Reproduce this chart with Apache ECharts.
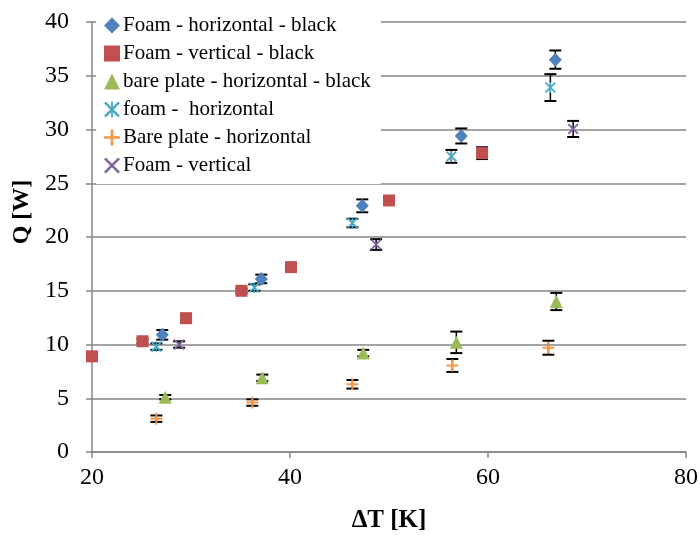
<!DOCTYPE html>
<html>
<head>
<meta charset="utf-8">
<script src="https://cdn.jsdelivr.net/npm/echarts@6/dist/echarts.min.js"></script>
<style>
html, body { margin: 0; padding: 0; background: #fff; }
#main { width: 700px; height: 535px; }
</style>
</head>
<body>
<div id="main"></div>
<script>
// x ticks / y ticks
var xTicks = [20, 40, 60, 80];
var yTicks = [0, 5, 10, 15, 20, 25, 30, 35, 40];

// Foam - horizontal - black
var fhbX = [27.1, 37.1, 47.3, 57.3, 66.8];
var fhbY = [10.9, 16.1, 22.9, 29.4, 36.5];
var fhbErr = [0.45, 0.4, 0.6, 0.7, 0.85];

// Foam - vertical - black
var fvbX = [20.0, 25.1, 29.5, 35.1, 40.1, 50.0, 59.4];
var fvbY = [8.9, 10.3, 12.45, 15.0, 17.2, 23.4, 27.8];
var fvbErr = [0.2, 0.2, 0.2, 0.2, 0.2, 0.35, 0.55];

// bare plate - horizontal - black
var bhbX = [27.4, 37.2, 47.4, 56.8, 66.9];
var bhbY = [5.1, 6.9, 9.2, 10.2, 14.0];
var bhbErr = [0.2, 0.3, 0.3, 1.0, 0.8];

// foam - horizontal
var fhX = [26.5, 36.4, 46.3, 56.3, 66.3];
var fhY = [9.8, 15.3, 21.3, 27.5, 33.9];
var fhErr = [0.3, 0.3, 0.4, 0.6, 1.25];

// Bare plate - horizontal
var bhX = [26.5, 36.2, 46.3, 56.4, 66.1];
var bhY = [3.1, 4.6, 6.3, 8.05, 9.7];
var bhErr = [0.3, 0.3, 0.4, 0.6, 0.65];

// Foam - vertical
var fvX = [28.8, 48.7, 68.6];
var fvY = [10.0, 19.3, 30.05];
var fvErr = [0.3, 0.5, 0.75];

var font = 'Liberation Serif';

var PLUS = 'path://M5,0H7V5H12V7H7V12H5V7H0V5H5Z';
var CROSS = 'path://M0,1.4L1.4,0L12,10.6L10.6,12Z M10.6,0L12,1.4L1.4,12L0,10.6Z';
var STAR = 'path://M0,1.4L1.4,0L12,10.6L10.6,12Z M10.6,0L12,1.4L1.4,12L0,10.6Z M5.3,0H6.7V12H5.3Z';

function pts(xs, ys) {
    return xs.map(function (x, i) { return [x, ys[i]]; });
}
function errPts(xs, ys, es) {
    return xs.map(function (x, i) { return [x, ys[i], es[i]]; });
}

function renderErr(params, api) {
    var x = api.value(0), y = api.value(1), e = api.value(2);
    var hi = api.coord([x, y + e]);
    var lo = api.coord([x, y - e]);
    var w = 6;
    var st = { stroke: '#000', lineWidth: 2 };
    return {
        type: 'group',
        children: [
            { type: 'line', shape: { x1: hi[0], y1: hi[1], x2: lo[0], y2: lo[1] }, style: { stroke: '#000', lineWidth: 1.5 } },
            { type: 'line', shape: { x1: hi[0] - w, y1: hi[1], x2: hi[0] + w, y2: hi[1] }, style: st },
            { type: 'line', shape: { x1: lo[0] - w, y1: lo[1], x2: lo[0] + w, y2: lo[1] }, style: st }
        ]
    };
}

var groups = [
    { name: 'Foam - horizontal - black', xs: fhbX, ys: fhbY, es: fhbErr, symbol: 'diamond', size: [13, 14], color: '#4F81BD' },
    { name: 'Foam - vertical - black', xs: fvbX, ys: fvbY, es: fvbErr, symbol: 'rect', size: 12, color: '#C0504D' },
    { name: 'bare plate - horizontal - black', xs: bhbX, ys: bhbY, es: bhbErr, symbol: 'triangle', size: 13, color: '#9BBB59' },
    { name: 'foam -  horizontal', xs: fhX, ys: fhY, es: fhErr, symbol: STAR, size: 11, color: '#4BACC6' },
    { name: 'Bare plate - horizontal', xs: bhX, ys: bhY, es: bhErr, symbol: PLUS, size: 12, color: '#F79646' },
    { name: 'Foam - vertical', xs: fvX, ys: fvY, es: fvErr, symbol: CROSS, size: 11, color: '#8064A2' }
];

var series = [];
groups.forEach(function (g) {
    series.push({
        name: g.name + ' err',
        type: 'custom',
        renderItem: renderErr,
        data: errPts(g.xs, g.ys, g.es),
        z: 2,
        silent: true
    });
});
groups.forEach(function (g) {
    series.push({
        name: g.name,
        type: 'scatter',
        symbol: g.symbol,
        symbolSize: g.size,
        itemStyle: { color: g.color, opacity: 1 },
        data: pts(g.xs, g.ys),
        z: 3
    });
});

var myChart = echarts.init(document.getElementById('main'));

var option = {
    backgroundColor: '#fff',
    animation: false,
    grid: {
        left: 92,
        right: 14,
        top: 22,
        bottom: 83,
        containLabel: false,
        outerBoundsMode: 'none'
    },
    legend: {
        orient: 'vertical',
        left: 96,
        top: 7,
        padding: [8, 10, 8, 8],
        backgroundColor: '#fff',
        itemWidth: 16,
        itemHeight: 16,
        itemGap: 7,
        data: groups.map(function (g) { return g.name; }),
        textStyle: { fontFamily: font, fontSize: 21, color: '#000', lineHeight: 21, padding: [0, 0, 0, -2] },
        z: 10
    },
    xAxis: {
        type: 'value',
        min: xTicks[0],
        max: xTicks[xTicks.length - 1],
        interval: 20,
        name: 'ΔT [K]',
        nameLocation: 'middle',
        nameGap: 56,
        nameTextStyle: { fontFamily: font, fontSize: 25, fontWeight: 'bold', color: '#000' },
        axisLine: { show: true, lineStyle: { color: '#868686', width: 1.5 } },
        axisTick: { show: true, length: 6, lineStyle: { color: '#868686', width: 1.5 } },
        axisLabel: { fontFamily: font, fontSize: 24, color: '#000', margin: 14 },
        splitLine: { show: false }
    },
    yAxis: {
        type: 'value',
        min: yTicks[0],
        max: yTicks[yTicks.length - 1],
        interval: 5,
        name: 'Q [W]',
        nameLocation: 'middle',
        nameGap: 54,
        nameTextStyle: { fontFamily: font, fontSize: 24, fontWeight: 'bold', color: '#000', padding: [0, 0, 0, 50] },
        axisLine: { show: true, lineStyle: { color: '#868686', width: 1.5 } },
        axisTick: { show: true, length: 6, lineStyle: { color: '#868686', width: 1.5 } },
        axisLabel: { fontFamily: font, fontSize: 24, color: '#000', margin: 23 },
        splitLine: { show: true, lineStyle: { color: '#868686', width: 1.5 } }
    },
    series: series
};

myChart.setOption(option);
window.onresize = function () { myChart.resize(); };
</script>
</body>
</html>
